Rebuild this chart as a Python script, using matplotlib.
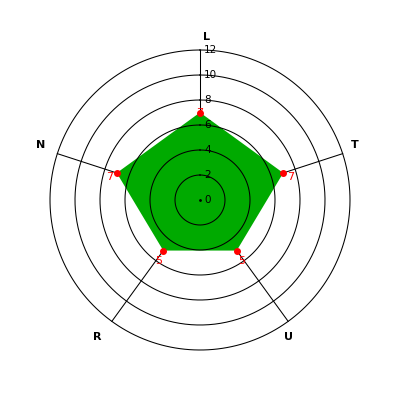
import matplotlib
matplotlib.use("Agg")
import matplotlib.pyplot as plt
import numpy as np

categories = ["L", "T", "U", "R", "N"]
values = [7, 7, 5, 5, 7]
rings = [0, 2, 4, 6, 8, 10, 12]

green = "#00aa00"
n = len(categories)
angles = np.arange(n) * 2 * np.pi / n
rmax = rings[-1]

fig = plt.figure(figsize=(4, 4), dpi=100)
ax = fig.add_axes([0.125, 0.125, 0.75, 0.75], projection="polar")
ax.set_theta_offset(np.pi / 2)
ax.set_theta_direction(-1)
ax.set_ylim(0, rmax)
ax.grid(False)
ax.set_xticks([])
ax.set_yticks([])
ax.spines["polar"].set_visible(False)

# spokes under the fill
for a in angles:
    ax.plot([a, a], [0, rmax], color="black", lw=0.75, zorder=1, clip_on=False)

# filled area
th = np.append(angles, angles[0])
vv = np.append(values, values[0])
ax.fill(th, vv, color=green, lw=0, zorder=2)

# rings on top
circ = np.linspace(0, 2 * np.pi, 400)
for r in rings[1:]:
    ax.plot(circ, np.full_like(circ, r), color="black", lw=0.75, zorder=3,
            clip_on=False)
ax.plot([0], [0], marker="o", ms=1, color="black", zorder=3)

# ring labels
for r in rings:
    ax.annotate(str(r), xy=(0, r), xytext=(4, 0), textcoords="offset pixels",
                ha="left", va="center", fontsize=7.5, color="black", zorder=4)

# markers and value labels
ax.plot(angles, values, "o", color="red", ms=4, zorder=5)
for a, v in zip(angles, values):
    dx = 8 * np.sin(a)
    dy = -6 * (1 - np.cos(a))
    ax.annotate(str(v), xy=(a, v), xytext=(dx, dy), textcoords="offset pixels",
                ha="center", va="center", fontsize=8, color="red", zorder=6)

# category labels (small nudges in pixels)
nudge = {"L": (7, -2), "T": (-2, 4), "U": (-8, -4), "R": (-6, -4), "N": (-2, 4)}
for a, c in zip(angles, categories):
    ax.annotate(c, xy=(a, rmax * 1.1), xytext=nudge[c], textcoords="offset pixels",
                ha="center", va="center", fontsize=8, fontweight="bold",
                color="black", annotation_clip=False)

fig.savefig("out.png", dpi=100)
